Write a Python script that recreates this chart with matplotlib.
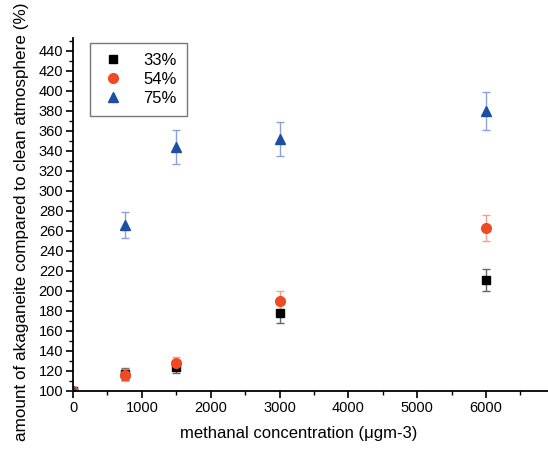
import matplotlib.pyplot as plt
from matplotlib.ticker import MultipleLocator

plt.rcParams["font.family"] = ["Liberation Sans", "DejaVu Sans"]

conc = [0, 750, 1500, 3000, 6000]
rh33 = [100, 117, 124, 178, 211]
rh33_err = [0, 6, 6, 10, 11]
rh54 = [100, 116, 128, 190, 263]
rh54_err = [0, 6, 6, 10, 13]
rh75 = [100, 266, 344, 352, 380]
rh75_err = [0, 13, 17, 17, 19]

series = [
    ("33%", rh33, rh33_err, "s", "black", "#666666", 6),
    ("54%", rh54, rh54_err, "o", "#ef4a24", "#f5a088", 7),
    ("75%", rh75, rh75_err, "^", "#1c4fa0", "#8f9fdc", 7),
]

fig = plt.figure(figsize=(5.48, 4.5), dpi=100)
ax = fig.add_axes([73 / 548, 59 / 450, 1 - 73 / 548, (391 - 38) / 450])

handles = []
for lab, y, e, m, c, ec, ms in series:
    eb = ax.errorbar(conc, y, yerr=e, fmt=m, color=c, ecolor=ec, ms=ms,
                     elinewidth=1, capsize=3, capthick=1, label=lab)
    handles.append(eb[0])

ax.set_xlim(0, 6900)
ax.set_ylim(100, 453)
ax.xaxis.set_major_locator(MultipleLocator(1000))
ax.xaxis.set_minor_locator(MultipleLocator(500))
ax.yaxis.set_minor_locator(MultipleLocator(10))
ax.set_yticks(range(100, 441, 20))
ax.tick_params(labelsize=10.5, width=1.2, length=5, pad=2)
ax.tick_params(which="minor", length=3, width=1)
ax.spines["top"].set_visible(False)
ax.spines["right"].set_visible(False)
ax.spines["left"].set_linewidth(1.3)
ax.spines["bottom"].set_linewidth(1.3)

ax.set_xlabel("methanal concentration (μgm-3)", fontsize=12, labelpad=6)
ax.xaxis.set_label_coords(0.475, -0.1)
ax.set_ylabel("amount of akaganeite compared to clean atmosphere (%)",
              fontsize=12.3)
ax.yaxis.set_label_coords(-0.092, 0.48)

leg = ax.legend(handles, ["33%", "54%", "75%"], loc="upper left",
                bbox_to_anchor=(0.036, 0.986), borderaxespad=0, fontsize=12,
                fancybox=False, edgecolor="#555555", handletextpad=1.0,
                handlelength=1.6, borderpad=0.6, labelspacing=0.25)
leg.get_frame().set_linewidth(1)

fig.savefig("out.png", dpi=100)
